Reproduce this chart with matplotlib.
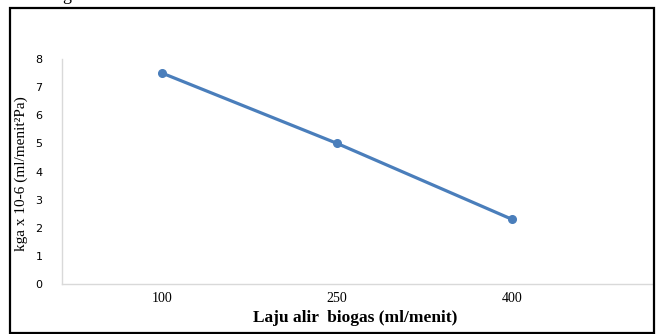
import matplotlib
matplotlib.use("Agg")
import matplotlib.pyplot as plt
from matplotlib.patches import Rectangle

categories = ["100", "250", "400"]
kga_values = [7.5, 5.0, 2.3]
y_ticks = [0, 1, 2, 3, 4, 5, 6, 7, 8]

W, H = 657, 334
fig = plt.figure(figsize=(W / 100, H / 100), dpi=100)
fig.patch.set_facecolor("white")

# outer black frame
fig.add_artist(Rectangle((10 / W, 1.5 / H), (654 - 10) / W, (326 - 1.5) / H,
                         transform=fig.transFigure, fill=False,
                         edgecolor="black", linewidth=1.6))

# cut-off text from above
fig.text(67 / W, 1 + 0.5 / H, "g", fontsize=13, family="Liberation Serif",
         ha="center", va="baseline")

ax = fig.add_axes([62 / W, 50 / H, (652 - 62) / W, (284 - 59) / H])
x = list(range(len(categories)))
ax.plot(x, kga_values, color="#4a7ebb", linewidth=2.3, marker="o",
        markersize=5.5, solid_capstyle="round")

ax.set_xlim(-100 / 175, 490 / 175)
ax.set_ylim(0, 8)
ax.set_xticks(x)
ax.set_xticklabels(categories, family="Liberation Serif", fontsize=10)
ax.set_yticks(y_ticks)
ax.set_yticklabels([str(v) for v in y_ticks], family="DejaVu Sans", fontsize=8)
ax.tick_params(axis="both", length=0)
ax.tick_params(axis="y", pad=14)
ax.tick_params(axis="x", pad=6)

for s in ["top", "right"]:
    ax.spines[s].set_visible(False)
for s in ["left", "bottom"]:
    ax.spines[s].set_color("#d9d9d9")
    ax.spines[s].set_linewidth(1.0)

ax.set_xlabel("Laju alir  biogas (ml/menit)", family="Liberation Serif",
              fontsize=12.5, fontweight="bold", va="center")
ax.xaxis.set_label_coords((355 - 62) / (652 - 62), (16 - 50) / 225)
ax.set_ylabel("kga x 10-6 (ml/menit²Pa)", family="Liberation Serif",
              fontsize=11, va="center")
ax.yaxis.set_label_coords(-(62 - 21) / (652 - 62), (284 - 174) / 225)

fig.savefig("out.png", dpi=100)
